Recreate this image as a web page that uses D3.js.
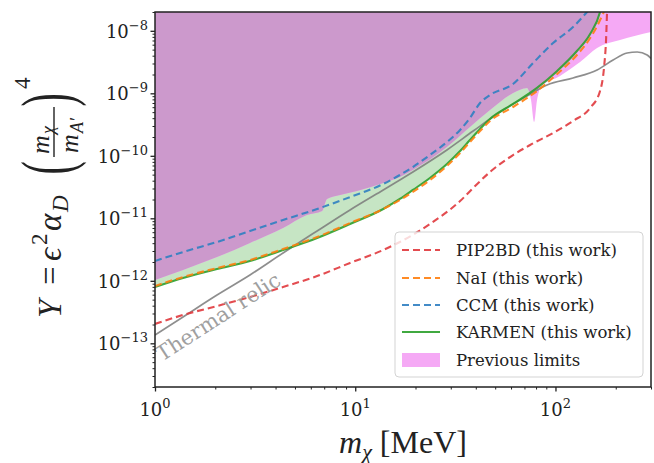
<!DOCTYPE html>
<html>
<head>
<meta charset="utf-8">
<script src="https://cdn.jsdelivr.net/npm/d3@7"></script>
<style>
  body { margin: 0; background: #fff; }
  svg { display: block; }
</style>
</head>
<body>
<svg id="chart" width="654" height="463"></svg>
<script>
// ---- Data: dark-photon parameter Y vs dark-matter mass m_chi (MeV) ----
const pipMass = [1, 1.38, 2.04, 2.98, 4.36, 6.45, 9.42, 13.8, 16.7, 23.6, 33.4, 39.7, 47.1, 61.4, 74.7, 97.3, 122.4, 149, 167, 174.9, 178.9, 181, 182];
const pipY    = [2.04e-13, 2.84e-13, 3.95e-13, 5.5e-13, 7.96e-13, 1.19e-12, 1.93e-12, 3.11e-12, 4.18e-12, 8.11e-12, 1.89e-11, 3.29e-11, 5.51e-11, 1.03e-10, 1.49e-10, 2.32e-10, 3.61e-10, 5.82e-10, 1.09e-9, 2.64e-9, 7.13e-9, 2.0e-8, 3.0e-8];

const naiMass = [1, 1.38, 2.04, 2.98, 4.36, 6.45, 9.42, 13.8, 16.7, 19.4, 23.6, 28.7, 33.4, 37.4, 42.0, 47.1, 61.4, 80.9, 102, 128, 149, 167, 175, 178];
const naiY    = [8.26e-13, 1.15e-12, 1.6e-12, 2.15e-12, 3.23e-12, 5.02e-12, 8.41e-12, 1.41e-11, 1.96e-11, 2.64e-11, 4.1e-11, 6.87e-11, 1.11e-10, 1.66e-10, 2.49e-10, 3.61e-10, 6.04e-10, 1.09e-9, 2.04e-9, 4.1e-9, 7.67e-9, 1.49e-8, 2.15e-8, 3.0e-8];

const ccmMass = [1, 1.38, 2.04, 2.98, 4.36, 6.45, 9.42, 13.8, 16.7, 19.4, 23.6, 28.7, 33.4, 37.4, 42.0, 47.1, 61.4, 77.3, 97.3, 122.4, 143.8, 157.7];
const ccmY    = [2.07e-12, 2.89e-12, 4.18e-12, 6.27e-12, 9.4e-12, 1.41e-11, 2.19e-11, 3.54e-11, 4.93e-11, 6.62e-11, 1.03e-10, 1.66e-10, 2.59e-10, 4.03e-10, 7.0e-10, 9.4e-10, 1.41e-9, 3.05e-9, 6.38e-9, 1.15e-8, 2.0e-8, 2.8e-8];

const karmenMass = [1, 1.38, 2.04, 2.98, 4.36, 6.45, 9.42, 13.8, 16.7, 19.4, 23.6, 28.7, 33.4, 37.4, 42.0, 47.1, 61.4, 80.9, 102, 128, 149, 167, 172];
const karmenY    = [7.96e-13, 1.11e-12, 1.545e-12, 2.07e-12, 3.11e-12, 4.84e-12, 8.11e-12, 1.41e-11, 2.04e-11, 2.84e-11, 4.42e-11, 7.4e-11, 1.19e-10, 1.79e-10, 2.69e-10, 3.88e-10, 6.75e-10, 1.22e-9, 2.28e-9, 4.75e-9, 8.89e-9, 2.0e-8, 3.0e-8];

const relicMass = [1, 1.38, 2.04, 2.98, 4.36, 6.45, 9.42, 13.8, 16.7, 19.4, 28.7, 38.8, 51.1, 74.7, 90.8, 122.4, 161.4, 194, 228, 256, 287, 300];
const relicY    = [1.36e-13, 2.64e-13, 5.93e-13, 1.24e-12, 2.79e-12, 6.27e-12, 1.36e-11, 2.84e-11, 4.1e-11, 5.51e-11, 1.24e-10, 2.49e-10, 4.66e-10, 9.7e-10, 1.36e-9, 1.76e-9, 2.36e-9, 3.41e-9, 4.42e-9, 4.58e-9, 4.1e-9, 3.6e-9];

// lower edge of the previously excluded region
const prevMass = [1, 1.38, 2.04, 2.98, 4.36, 5.74, 6.83, 7.23, 8.4, 10.2, 13.8, 16.7, 19.4, 28.7, 37.4, 47.1, 61.4, 72.1, 75.5, 78.2, 80.9, 84.7, 105.4, 132.7, 161.4, 210, 300];
const prevY    = [1.03e-12, 1.49e-12, 2.4e-12, 4.03e-12, 7.0e-12, 1.13e-11, 1.31e-11, 2.04e-11, 2.36e-11, 2.74e-11, 3.67e-11, 4.58e-11, 5.93e-11, 1.38e-10, 2.89e-10, 5.41e-10, 1.01e-9, 1.22e-9, 7.8e-10, 3.47e-10, 7.8e-10, 1.26e-9, 1.89e-9, 3.17e-9, 5.31e-9, 7.13e-9, 9.57e-9];

const xTickValues = [1, 10, 100];
const xTickExps   = ["0", "1", "2"];
const yTickValues = [1e-13, 1e-12, 1e-11, 1e-10, 1e-9, 1e-8];
const yTickExps   = ["\u221213", "\u221212", "\u221211", "\u221210", "\u22129", "\u22128"];

const legendLabels = ["PIP2BD (this work)", "NaI (this work)", "CCM (this work)", "KARMEN (this work)", "Previous limits"];

// ---- Layout ----
const svg = d3.select("#chart");
const L = 155, R = 651, T = 12, B = 387;
const x = d3.scaleLog().domain([1, 300]).range([L, R]);
const y = d3.scaleLog().domain([2e-14, 2e-8]).range([B, T]);

const zip = (a, b) => a.map((v, i) => [v, b[i]]);
const pip = zip(pipMass, pipY), nai = zip(naiMass, naiY), ccm = zip(ccmMass, ccmY);
const karmen = zip(karmenMass, karmenY), relic = zip(relicMass, relicY), prev = zip(prevMass, prevY);

const defs = svg.append("defs");
defs.append("clipPath").attr("id", "plotClip")
  .append("rect").attr("x", L).attr("y", T).attr("width", R - L).attr("height", B - T);

// area from a boundary curve up to the top of the plot
const upArea = d3.area().curve(d3.curveMonotoneX)
  .x(d => x(d[0])).y0(d => y(d[1])).y1(T - 40);
const line = d3.line().curve(d3.curveMonotoneX).x(d => x(d[0])).y(d => y(d[1]));

defs.append("clipPath").attr("id", "karmenClip")
  .append("path").attr("d", upArea(karmen));

const plot = svg.append("g").attr("clip-path", "url(#plotClip)");

// excluded regions
plot.append("path").attr("d", upArea(karmen)).attr("fill", "#c6e5c4");
plot.append("path").attr("d", upArea(prev)).attr("fill", "#f5a9f5");
plot.append("g").attr("clip-path", "url(#karmenClip)")
  .append("path").attr("d", upArea(prev)).attr("fill", "#cc99cc");

// thermal relic target
plot.append("path").attr("d", line(relic)).attr("fill", "none")
  .attr("stroke", "#7a7a7a").attr("stroke-width", 1.7).attr("opacity", 0.85);

const series = [
  { data: pip, color: "#e0383d", dash: "7,4" },
  { data: karmen, color: "#2ca02c", dash: null },
  { data: nai, color: "#ff7f0e", dash: "7,4" },
  { data: ccm, color: "#2f7fc1", dash: "7,4" }
];
series.forEach(s => {
  plot.append("path").attr("d", line(s.data)).attr("fill", "none")
    .attr("stroke", s.color).attr("stroke-width", 2.1)
    .attr("stroke-dasharray", s.dash).attr("opacity", 0.9);
});

// label along the relic line
svg.append("text")
  .attr("transform", "translate(162,362) rotate(-33)")
  .attr("font-family", "DejaVu Serif").attr("font-size", 21)
  .attr("fill", "#a0a0a0").text("Thermal relic");

// ---- Axes ----
const xMinor = [];
[1, 10, 100].forEach(d => { for (let k = 2; k <= 9; k++) if (d * k <= 300) xMinor.push(d * k); });
const yMinor = [];
[1e-14, 1e-13, 1e-12, 1e-11, 1e-10, 1e-9, 1e-8].forEach(d => { for (let k = 2; k <= 9; k++) { const v = d * k; if (v >= 2e-14 && v <= 2e-8) yMinor.push(v); } });

const axStyle = g => { g.select(".domain").remove(); g.selectAll("line").attr("stroke", "#222").attr("stroke-width", 1); };
svg.append("g").attr("transform", `translate(0,${B})`)
  .call(d3.axisBottom(x).tickValues(xTickValues).tickSize(4.5).tickFormat(""))
  .call(axStyle).selectAll("line").attr("stroke-width", 1.3);
svg.append("g").attr("transform", `translate(0,${B})`)
  .call(d3.axisBottom(x).tickValues(xMinor).tickSize(2.5).tickFormat(""))
  .call(axStyle);
svg.append("g").attr("transform", `translate(${L},0)`)
  .call(d3.axisLeft(y).tickValues(yTickValues).tickSize(4.5).tickFormat(""))
  .call(axStyle).selectAll("line").attr("stroke-width", 1.3);
svg.append("g").attr("transform", `translate(${L},0)`)
  .call(d3.axisLeft(y).tickValues(yMinor).tickSize(2.5).tickFormat(""))
  .call(axStyle);

const tickFont = "DejaVu Serif";
xTickValues.forEach((v, i) => {
  const t = svg.append("text").attr("x", x(v)).attr("y", 416)
    .attr("text-anchor", "middle").attr("font-family", tickFont)
    .attr("font-size", 18).attr("fill", "#222");
  t.append("tspan").text("10");
  t.append("tspan").attr("font-size", 13).attr("dy", -8).text(xTickExps[i]);
});
yTickValues.forEach((v, i) => {
  const t = svg.append("text").attr("x", 148).attr("y", y(v) + 7)
    .attr("text-anchor", "end").attr("font-family", tickFont)
    .attr("font-size", 18).attr("fill", "#222");
  t.append("tspan").text("10");
  t.append("tspan").attr("font-size", 13).attr("dy", -8).text(yTickExps[i]);
});

// frame
svg.append("rect").attr("x", L).attr("y", T).attr("width", R - L).attr("height", B - T)
  .attr("fill", "none").attr("stroke", "#222").attr("stroke-width", 1.5);

// ---- Axis titles ----
const mathFont = "Liberation Serif";
const xl = svg.append("text").attr("x", 403).attr("y", 453).attr("text-anchor", "middle")
  .attr("font-family", mathFont).attr("font-size", 32).attr("fill", "#222");
xl.append("tspan").attr("font-style", "italic").text("m");
xl.append("tspan").attr("font-style", "italic").attr("font-size", 22).attr("dy", 6).text("\u03c7");
xl.append("tspan").attr("dy", -6).text(" [MeV]");

// y title, built piece by piece in a rotated frame (u along text, v across)
const yl = svg.append("g").attr("transform", "translate(61,318) rotate(-90)")
  .attr("font-family", mathFont).attr("fill", "#222");
const put = (u, v, s, size, opts = {}) => {
  const t = yl.append("text").attr("x", u).attr("y", v).attr("font-size", size).text(s);
  if (opts.italic) t.attr("font-style", "italic");
  if (opts.anchor) t.attr("text-anchor", opts.anchor);
  return t;
};
put(0, 0, "Y", 33, { italic: true });
put(33, 0, "=", 33);
put(57, 0, "\u03f5", 33, { italic: true });
put(73, -14, "2", 23);
put(87, 0, "\u03b1", 33, { italic: true });
put(106, 7, "D", 23, { italic: true });
yl.append("text").attr("transform", "translate(150,10) scale(0.55,1)")
  .attr("text-anchor", "middle").attr("font-size", 72).text("(");
put(164, -12, "m", 26, { italic: true });
put(184, -7, "\u03c7", 18, { italic: true });
yl.append("line").attr("x1", 161).attr("x2", 211).attr("y1", -7).attr("y2", -7)
  .attr("stroke", "#222").attr("stroke-width", 1.4);
put(165, 17, "m", 26, { italic: true });
put(185, 22, "A\u2032", 18, { italic: true });
yl.append("text").attr("transform", "translate(218,10) scale(0.55,1)")
  .attr("text-anchor", "middle").attr("font-size", 72).text(")");
put(229, -31, "4", 23);

// ---- Legend ----
const lg = svg.append("g");
lg.append("rect").attr("x", 395).attr("y", 232).attr("width", 248).attr("height", 145)
  .attr("rx", 4).attr("fill", "#fff").attr("fill-opacity", 0.8)
  .attr("stroke", "#d3d3d3").attr("stroke-width", 1);
const rows = [250, 278, 305, 332, 360];
const handles = [
  { color: "#e0383d", dash: "7,4" },
  { color: "#ff7f0e", dash: "7,4" },
  { color: "#2f7fc1", dash: "7,4" },
  { color: "#2ca02c", dash: null },
  { patch: "#f5a9f5" }
];
handles.forEach((h, i) => {
  const yy = rows[i];
  if (h.patch) {
    lg.append("rect").attr("x", 402).attr("y", yy - 7).attr("width", 38).attr("height", 14).attr("fill", h.patch);
  } else {
    lg.append("line").attr("x1", 402).attr("x2", 440).attr("y1", yy).attr("y2", yy)
      .attr("stroke", h.color).attr("stroke-width", 2.1).attr("stroke-dasharray", h.dash).attr("opacity", 0.9);
  }
  lg.append("text").attr("x", 456).attr("y", yy).attr("dy", "0.35em")
    .attr("font-family", "DejaVu Serif").attr("font-size", 16.5).attr("fill", "#222")
    .text(legendLabels[i]);
});
</script>
</body>
</html>
